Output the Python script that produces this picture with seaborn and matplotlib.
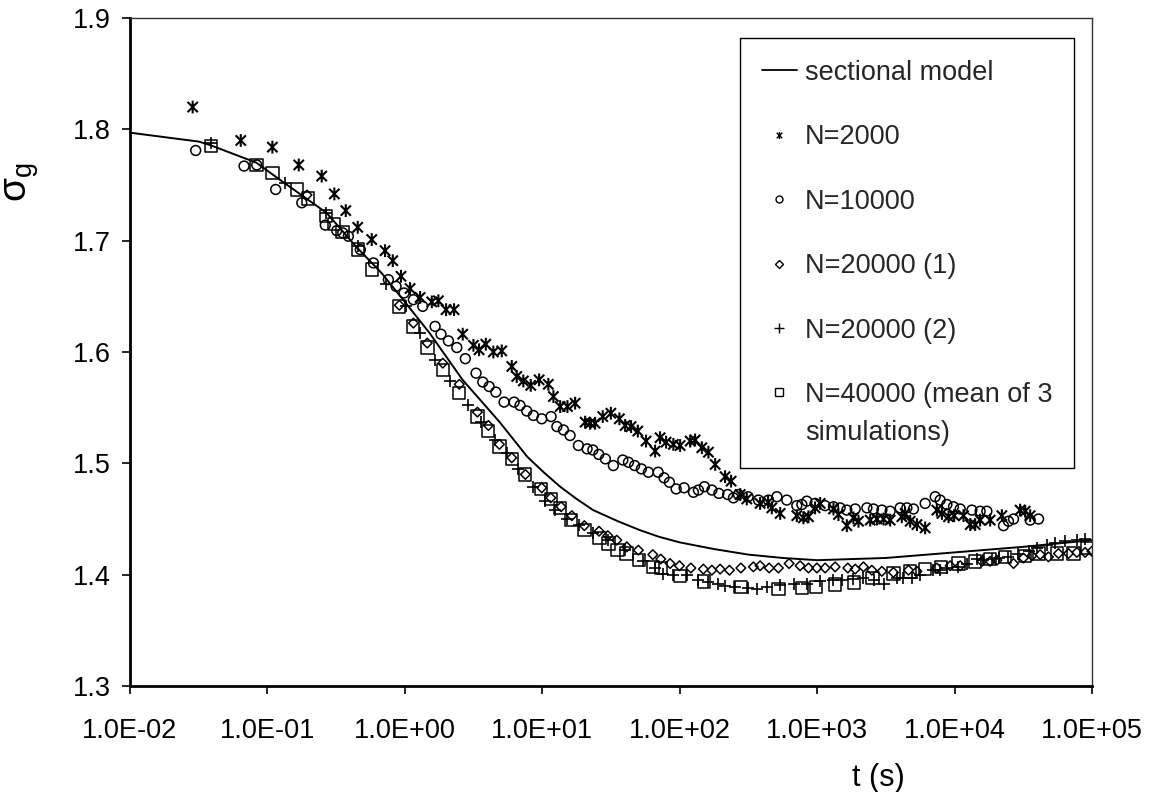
import numpy as np
import matplotlib
matplotlib.use("Agg")
import matplotlib.pyplot as plt
import seaborn as sns
from matplotlib.path import Path
from matplotlib.lines import Line2D
from matplotlib.legend_handler import HandlerLine2D

# ---------------- data (time given as log10 of t in seconds) ----------------
model_logt = [-2.0, -1.5, -1.42, -1.08, -0.89, -0.57, -0.35, -0.17, 0.0, 0.18, 0.42,
              0.69, 0.89, 1.01, 1.13, 1.25, 1.37, 1.55, 1.71, 1.85, 2.0, 2.25, 2.5,
              2.75, 3.0, 3.5, 4.0, 4.5, 5.0]
model_sigma = [1.797, 1.789, 1.786, 1.770, 1.753, 1.725, 1.694, 1.671, 1.645, 1.617, 1.575,
               1.537, 1.506, 1.492, 1.479, 1.468, 1.458, 1.448, 1.440, 1.434, 1.429, 1.423,
               1.418, 1.415, 1.413, 1.415, 1.420, 1.425, 1.431]

n2000_logt = [-1.544, -1.194, -0.964, -0.772, -0.605, -0.513, -0.430, -0.343, -0.241, -0.144,
              -0.088, -0.028, 0.038, 0.111, 0.196, 0.244, 0.300, 0.358, 0.421, 0.499,
              0.540, 0.589, 0.644, 0.705, 0.778, 0.814, 0.862, 0.916, 0.977, 1.044,
              1.081, 1.130, 1.183, 1.239, 1.312, 1.348, 1.384, 1.440, 1.499, 1.561,
              1.603, 1.646, 1.695, 1.755, 1.821, 1.857, 1.901, 1.954, 2.003, 2.076,
              2.112, 2.161, 2.209, 2.258, 2.330, 2.374, 2.440, 2.488, 2.585, 2.643,
              2.670, 2.731, 2.852, 2.900, 2.937, 2.985, 3.022, 3.119, 3.155, 3.216,
              3.264, 3.301, 3.386, 3.435, 3.483, 3.531, 3.616, 3.640, 3.677, 3.726,
              3.786, 3.871, 3.908, 3.956, 3.997, 4.065, 4.114, 4.150, 4.186, 4.259,
              4.344, 4.477, 4.514, 4.550]
n2000_sigma = [1.820, 1.790, 1.784, 1.768, 1.758, 1.742, 1.727, 1.712, 1.701, 1.691,
               1.682, 1.668, 1.657, 1.649, 1.645, 1.646, 1.638, 1.638, 1.616, 1.606,
               1.602, 1.607, 1.600, 1.601, 1.587, 1.578, 1.574, 1.570, 1.575, 1.571,
               1.560, 1.551, 1.551, 1.554, 1.537, 1.536, 1.536, 1.542, 1.545, 1.540,
               1.534, 1.533, 1.529, 1.520, 1.511, 1.523, 1.519, 1.517, 1.516, 1.520,
               1.521, 1.514, 1.510, 1.499, 1.488, 1.484, 1.472, 1.468, 1.464, 1.465,
               1.460, 1.455, 1.453, 1.451, 1.452, 1.460, 1.464, 1.459, 1.454, 1.444,
               1.451, 1.448, 1.449, 1.450, 1.450, 1.449, 1.452, 1.455, 1.448, 1.445,
               1.442, 1.458, 1.455, 1.452, 1.453, 1.453, 1.445, 1.445, 1.449, 1.449,
               1.453, 1.458, 1.457, 1.453]

n10000_logt = [-1.522, -1.170, -1.078, -0.940, -0.750, -0.579, -0.496, -0.452, -0.411, -0.324,
               -0.229, -0.120, -0.064, -0.006, 0.062, 0.130, 0.220, 0.263, 0.317, 0.378,
               0.440, 0.518, 0.567, 0.613, 0.662, 0.722, 0.795, 0.838, 0.887, 0.935,
               0.996, 1.064, 1.106, 1.154, 1.202, 1.263, 1.326, 1.368, 1.411, 1.459,
               1.517, 1.586, 1.627, 1.672, 1.721, 1.772, 1.843, 1.886, 1.925, 1.974,
               2.032, 2.100, 2.136, 2.180, 2.234, 2.285, 2.349, 2.391, 2.427, 2.498,
               2.573, 2.646, 2.707, 2.779, 2.852, 2.889, 2.925, 2.985, 3.058, 3.119,
               3.167, 3.216, 3.277, 3.362, 3.410, 3.471, 3.531, 3.604, 3.653, 3.701,
               3.786, 3.859, 3.895, 3.944, 3.992, 4.041, 4.126, 4.186, 4.235, 4.356,
               4.392, 4.429, 4.550, 4.611]
n10000_sigma = [1.781, 1.767, 1.768, 1.746, 1.734, 1.714, 1.709, 1.707, 1.704, 1.692,
                1.680, 1.665, 1.659, 1.653, 1.647, 1.641, 1.623, 1.616, 1.610, 1.604,
                1.594, 1.581, 1.573, 1.569, 1.564, 1.555, 1.555, 1.552, 1.547, 1.543,
                1.540, 1.542, 1.533, 1.530, 1.525, 1.516, 1.513, 1.512, 1.508, 1.504,
                1.498, 1.503, 1.501, 1.498, 1.495, 1.492, 1.492, 1.487, 1.483, 1.477,
                1.478, 1.474, 1.476, 1.479, 1.476, 1.473, 1.472, 1.469, 1.472, 1.470,
                1.467, 1.467, 1.470, 1.467, 1.462, 1.463, 1.466, 1.464, 1.462, 1.461,
                1.460, 1.458, 1.459, 1.460, 1.459, 1.458, 1.457, 1.460, 1.460, 1.459,
                1.464, 1.470, 1.467, 1.463, 1.461, 1.459, 1.458, 1.457, 1.457, 1.444,
                1.448, 1.450, 1.449, 1.450]

n20000a_logt = [-0.712, -0.040, 0.062, 0.163, 0.276, 0.396, 0.528, 0.608, 0.688, 0.778,
                0.877, 0.996, 1.062, 1.137, 1.215, 1.306, 1.413, 1.477, 1.542, 1.615,
                1.699, 1.804, 1.862, 1.930, 1.998, 2.081, 2.172, 2.234, 2.294, 2.362,
                2.445, 2.536, 2.585, 2.651, 2.718, 2.796, 2.876, 2.937, 2.998, 3.058,
                3.131, 3.223, 3.277, 3.337, 3.398, 3.471, 3.555, 3.665, 3.726, 3.871,
                3.968, 4.041, 4.199, 4.259, 4.308, 4.429, 4.501, 4.563, 4.623, 4.683,
                4.756, 4.829, 4.890, 4.950, 4.999]
n20000a_sigma = [1.741, 1.642, 1.626, 1.608, 1.590, 1.571, 1.546, 1.534, 1.517, 1.505,
                 1.490, 1.478, 1.469, 1.461, 1.453, 1.444, 1.439, 1.435, 1.431, 1.425,
                 1.422, 1.418, 1.414, 1.410, 1.408, 1.406, 1.405, 1.404, 1.405, 1.404,
                 1.406, 1.407, 1.408, 1.406, 1.406, 1.410, 1.408, 1.406, 1.406, 1.406,
                 1.407, 1.406, 1.405, 1.407, 1.404, 1.403, 1.402, 1.404, 1.403, 1.406,
                 1.408, 1.408, 1.412, 1.412, 1.413, 1.410, 1.415, 1.417, 1.418, 1.416,
                 1.419, 1.419, 1.420, 1.420, 1.421]

n20000b_logt = [-1.411, -0.870, -0.572, -0.344, -0.140, 0.005, 0.113, 0.220, 0.329, 0.462,
                0.555, 0.656, 0.742, 0.826, 0.935, 1.020, 1.093, 1.178, 1.270, 1.372,
                1.479, 1.603, 1.736, 1.821, 1.881, 1.954, 2.052, 2.136, 2.209, 2.279,
                2.330, 2.403, 2.500, 2.561, 2.634, 2.731, 2.828, 2.925, 3.022, 3.119,
                3.180, 3.264, 3.337, 3.415, 3.488, 3.580, 3.628, 3.689, 3.750, 3.846,
                3.895, 3.944, 4.028, 4.090, 4.162, 4.210, 4.271, 4.320, 4.392, 4.463,
                4.538, 4.599, 4.672, 4.732, 4.805, 4.890, 4.950]
n20000b_sigma = [1.788, 1.752, 1.725, 1.695, 1.661, 1.641, 1.617, 1.593, 1.574, 1.552,
                 1.537, 1.521, 1.509, 1.495, 1.479, 1.466, 1.458, 1.450, 1.445, 1.437,
                 1.431, 1.422, 1.412, 1.406, 1.401, 1.400, 1.400, 1.395, 1.393, 1.392,
                 1.390, 1.389, 1.388, 1.387, 1.389, 1.391, 1.392, 1.392, 1.394, 1.395,
                 1.395, 1.396, 1.397, 1.395, 1.392, 1.397, 1.397, 1.397, 1.400, 1.404,
                 1.404, 1.406, 1.407, 1.410, 1.414, 1.413, 1.414, 1.415, 1.416, 1.419,
                 1.421, 1.424, 1.427, 1.428, 1.430, 1.431, 1.432]

n40000_logt = [-1.411, -1.078, -0.963, -0.785, -0.704, -0.573, -0.514, -0.455, -0.341, -0.241,
               -0.041, 0.060, 0.165, 0.276, 0.396, 0.528, 0.603, 0.688, 0.778, 0.875,
               0.991, 1.062, 1.130, 1.210, 1.306, 1.416, 1.481, 1.547, 1.614, 1.703,
               1.804, 1.862, 2.003, 2.178, 2.442, 2.720, 2.891, 2.993, 3.131, 3.269,
               3.404, 3.555, 3.677, 3.786, 3.902, 4.030, 4.150, 4.259, 4.368, 4.514,
               4.616, 4.745, 4.865, 4.963]
n40000_sigma = [1.785, 1.768, 1.761, 1.746, 1.738, 1.722, 1.715, 1.708, 1.692, 1.674,
                1.641, 1.623, 1.604, 1.584, 1.563, 1.542, 1.529, 1.515, 1.504, 1.490,
                1.477, 1.468, 1.460, 1.449, 1.440, 1.433, 1.428, 1.422, 1.419, 1.413,
                1.407, 1.406, 1.399, 1.394, 1.389, 1.387, 1.388, 1.389, 1.391, 1.393,
                1.397, 1.401, 1.403, 1.405, 1.407, 1.410, 1.412, 1.414, 1.416, 1.417,
                1.419, 1.419, 1.419, 1.424]

labels = ["sectional model", "N=2000", "N=10000", "N=20000 (1)", "N=20000 (2)",
          "N=40000 (mean of 3\nsimulations)"]
xtick_exp = [-2, -1, 0, 1, 2, 3, 4, 5]
xtick_labels = ["1.0E-02", "1.0E-01", "1.0E+00", "1.0E+01", "1.0E+02", "1.0E+03",
                "1.0E+04", "1.0E+05"]
ytick_vals = [1.3, 1.4, 1.5, 1.6, 1.7, 1.8, 1.9]

# ---------------- style ----------------
sns.set_theme(style="white")
plt.rcParams["font.family"] = ["Liberation Sans", "DejaVu Sans"]
plt.rcParams["mathtext.fontset"] = "custom"
plt.rcParams["mathtext.rm"] = "Liberation Sans"
plt.rcParams["mathtext.it"] = "Liberation Sans:italic"
plt.rcParams["mathtext.bf"] = "Liberation Sans:bold"

W, H = 1149, 792
fig = plt.figure(figsize=(W / 100, H / 100), dpi=100)
fig.patch.set_facecolor("white")
ax = fig.add_axes([130 / W, 1 - 686 / H, 962 / W, 668 / H])
ax.set_facecolor("white")

# asterisk marker (x with vertical bar)
star = Path([(-1, -1), (1, 1), (-1, 1), (1, -1), (0, -1.25), (0, 1.25)],
            [Path.MOVETO, Path.LINETO, Path.MOVETO, Path.LINETO, Path.MOVETO, Path.LINETO])

def tt(v):
    return np.power(10.0, np.asarray(v, dtype=float))

sns.lineplot(x=tt(model_logt), y=model_sigma, ax=ax, color="black", linewidth=1.4,
             estimator=None, sort=False)

open_kw = dict(ax=ax, facecolor="none", edgecolor="black", zorder=3)
sns.scatterplot(x=tt(n2000_logt), y=n2000_sigma, marker=star, s=85, linewidth=1.5, **open_kw)
sns.scatterplot(x=tt(n10000_logt), y=n10000_sigma, marker="o", s=50, linewidth=1.1, **open_kw)
sns.scatterplot(x=tt(n20000a_logt), y=n20000a_sigma, marker="D", s=24, linewidth=1.1, **open_kw)
sns.scatterplot(x=tt(n20000b_logt), y=n20000b_sigma, marker="+", s=65, ax=ax,
                color="black", linewidth=1.2, zorder=3)
sns.scatterplot(x=tt(n40000_logt), y=n40000_sigma, marker="s", s=80, linewidth=1.1, **open_kw)

ax.set_xscale("log")
ax.set_xlim(1e-2, 1e5)
ax.set_ylim(1.3, 1.9)
ax.set_xticks(tt(xtick_exp))
ax.set_xticklabels(xtick_labels)
ax.minorticks_off()
ax.set_yticks(ytick_vals)
ax.set_yticklabels([f"{v:.1f}" for v in ytick_vals])
ax.tick_params(axis="both", which="major", direction="out", length=6, width=1.2,
               color="black", labelsize=19.5, labelcolor="black", bottom=True, left=True)
ax.tick_params(axis="x", pad=17)
ax.tick_params(axis="y", pad=8)

for side in ["left", "bottom"]:
    ax.spines[side].set_linewidth(2.0)
    ax.spines[side].set_color("black")
for side in ["top", "right"]:
    ax.spines[side].set_linewidth(1.0)
    ax.spines[side].set_color("#333333")

ax.set_ylabel("")
fig.text(22 / W, 1 - 182 / H, r"$\mathrm{σ}_{\mathrm{g}}$", fontsize=28, rotation=90,
         ha="center", va="center", color="black")
ax.set_xlabel("t (s)", fontsize=22, color="black")
ax.xaxis.set_label_coords(0.778, -0.115)


class ShiftedHandler(HandlerLine2D):
    def __init__(self, shift=0.0, **kw):
        super().__init__(**kw)
        self.shift = shift

    def create_artists(self, legend, orig_handle, xdescent, ydescent, width, height,
                       fontsize, trans):
        return super().create_artists(legend, orig_handle, xdescent,
                                      ydescent - 2 * self.shift, width, height,
                                      fontsize, trans)


mk = dict(ls="none", markerfacecolor="none", markeredgecolor="black", markeredgewidth=1.0)
handles = [
    Line2D([], [], color="black", linewidth=1.3),
    Line2D([], [], marker=star, markersize=5, **mk),
    Line2D([], [], marker="o", markersize=5, **mk),
    Line2D([], [], marker="D", markersize=4.5, **mk),
    Line2D([], [], marker="+", markersize=7, **mk),
    Line2D([], [], marker="s", markersize=6, **mk),
]
leg = ax.legend(handles, labels, loc="upper left", bbox_to_anchor=(740 / W, 1 - 38 / H),
                bbox_transform=fig.transFigure, borderaxespad=0, frameon=True,
                fancybox=False, shadow=False, fontsize=19.5, labelspacing=1.42,
                handlelength=1.3, handletextpad=0.3, borderpad=0.8,
                handler_map={handles[5]: ShiftedHandler(shift=16)})
for t in leg.get_texts():
    t.set_linespacing(1.6)
leg.get_frame().set_edgecolor("black")
leg.get_frame().set_linewidth(1.0)
leg.get_frame().set_facecolor("white")
leg.get_frame().set_alpha(1.0)

fig.savefig("out.png", dpi=100, facecolor="white")
